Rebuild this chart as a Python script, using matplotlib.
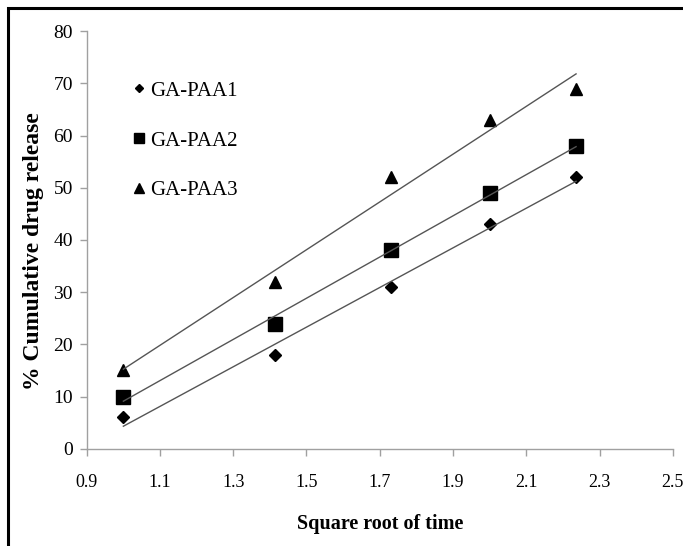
import numpy as np
import matplotlib.pyplot as plt
from matplotlib.patches import Rectangle

# square root of time (t = 1..5)
sqrt_time = [1.0, 1.414, 1.732, 2.0, 2.236]
series_names = ["GA-PAA1", "GA-PAA2", "GA-PAA3"]
paa1 = [6, 18, 31, 43, 52]
paa2 = [10, 24, 38, 49, 58]
paa3 = [15, 32, 52, 63, 69]
markers = ["D", "s", "^"]
marker_sizes = [6, 10, 9]

x_ticks = [0.9, 1.1, 1.3, 1.5, 1.7, 1.9, 2.1, 2.3, 2.5]
y_ticks = [0, 10, 20, 30, 40, 50, 60, 70, 80]

plt.rcParams['font.family'] = ['Liberation Serif', 'DejaVu Serif']

fig = plt.figure(figsize=(6.83, 5.46), dpi=100)
ax = fig.add_axes([0.127, 0.178, 0.858, 0.765])

# outer frame (cropped at right/bottom in the original)
fig.patches.append(Rectangle((8 / 683, -0.1), 1.2, 1 - 8 / 546 + 0.1,
                             transform=fig.transFigure, fill=False,
                             edgecolor='black', linewidth=2.2))

x = np.array(sqrt_time)
for ys, name, m, ms in zip([paa1, paa2, paa3], series_names, markers, marker_sizes):
    ax.plot(x, ys, linestyle='none', marker=m, markersize=ms,
            color='black', label=name)
    # linear trendline
    k, b = np.polyfit(x, ys, 1)
    ax.plot(x[[0, -1]], k * x[[0, -1]] + b, color='#555555', linewidth=1.0)

ax.set_xlim(0.9, 2.5)
ax.set_ylim(0, 80)
ax.set_xticks(x_ticks)
ax.set_yticks(y_ticks)
ax.set_xticklabels([f"{v:.1f}" for v in x_ticks])
ax.tick_params(axis='both', color='#a0a0a0', length=5, width=1)
ax.tick_params(axis='x', pad=13, labelsize=13)
ax.tick_params(axis='y', pad=5, labelsize=14)

for s in ['top', 'right']:
    ax.spines[s].set_visible(False)
for s in ['left', 'bottom']:
    ax.spines[s].set_color('#a0a0a0')
    ax.spines[s].set_linewidth(1)

ax.set_xlabel("Square root of time", fontsize=14.5, fontweight='bold', labelpad=17)
ax.set_ylabel("% Cumulative drug release", fontsize=17, fontweight='bold')
ax.yaxis.set_label_coords(-0.073, 0.474)

handles, labels = ax.get_legend_handles_labels()
ax.legend(handles[:3], labels[:3], loc='upper left', bbox_to_anchor=(0.04, 0.925),
          frameon=False, fontsize=15, labelspacing=1.45, handletextpad=0.0,
          handlelength=1.0, markerscale=0.75)

fig.savefig("out.png", dpi=100)
